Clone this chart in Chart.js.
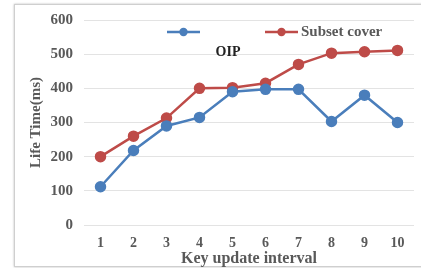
<!DOCTYPE html>
<html lang="en">
<head>
  <meta charset="UTF-8">
  <title>Life Time vs Key update interval</title>
  <script src="https://cdn.jsdelivr.net/npm/chart.js"></script>
</head>
<body style="margin:0; background:#fff; width:421px; height:268px; overflow:hidden; position:relative;">

  <!-- frame around the figure -->
  <div style="position:absolute; left:14px; top:4px; width:420px; height:261px; border:1px solid #cfcfcf; box-shadow:0 0 2px #bbb;"></div>

  <div style="position:absolute; left:0; top:0; width:421px; height:268px;">
    <canvas id="lifeChart" width="421" height="268"></canvas>
  </div>

  <script>
    // data
    const intervals = ['1', '2', '3', '4', '5', '6', '7', '8', '9', '10'];
    const oipValues = [112, 218, 290, 315, 390, 397, 397, 303, 380, 300];
    const subsetValues = [200, 260, 313, 400, 402, 415, 470, 503, 507, 511];
    const yTicks = [0, 100, 200, 300, 400, 500, 600];

    const BLUE = '#4a7ebb';
    const RED = '#be4b48';
    const GREY_TEXT = '#595959';
    const SERIF = "'Liberation Serif', 'DejaVu Serif', serif";

    // legend is drawn by hand: line+marker, with the OIP label sitting under its line
    const handLegend = {
      id: 'handLegend',
      afterDraw(chart) {
        const ctx = chart.ctx;
        const items = [
          { color: BLUE, x0: 167, x1: 200, y: 32 },
          { color: RED, x0: 265, x1: 298, y: 32 }
        ];
        ctx.save();
        items.forEach(it => {
          ctx.strokeStyle = it.color;
          ctx.lineWidth = 2.5;
          ctx.beginPath();
          ctx.moveTo(it.x0, it.y);
          ctx.lineTo(it.x1, it.y);
          ctx.stroke();
          ctx.fillStyle = it.color;
          ctx.beginPath();
          ctx.arc((it.x0 + it.x1) / 2, it.y, 4.2, 0, Math.PI * 2);
          ctx.fill();
        });
        ctx.textBaseline = 'middle';
        ctx.font = 'bold 15px ' + SERIF;
        ctx.fillStyle = GREY_TEXT;
        ctx.textAlign = 'left';
        ctx.fillText('Subset cover', 301, 32);
        ctx.fillStyle = '#222';
        ctx.font = 'bold 14px ' + SERIF;
        ctx.textAlign = 'center';
        ctx.fillText('OIP', 228, 52);
        ctx.restore();
      }
    };

    const ctx = document.getElementById('lifeChart').getContext('2d');
    new Chart(ctx, {
      type: 'line',
      data: {
        labels: intervals,
        datasets: [
          {
            label: 'OIP',
            data: oipValues,
            borderColor: BLUE,
            backgroundColor: BLUE,
            borderWidth: 2.5,
            pointRadius: 4.5,
            pointHoverRadius: 4.5,
            tension: 0
          },
          {
            label: 'Subset cover',
            data: subsetValues,
            borderColor: RED,
            backgroundColor: RED,
            borderWidth: 2.5,
            pointRadius: 4.5,
            pointHoverRadius: 4.5,
            tension: 0
          }
        ]
      },
      options: {
        responsive: false,
        animation: false,
        layout: { padding: { left: 0, right: 2, top: 19, bottom: 0 } },
        plugins: {
          legend: { display: false },
          tooltip: { enabled: false }
        },
        scales: {
          x: {
            offset: true,
            grid: { display: false, drawTicks: false },
            border: { display: false },
            ticks: {
              color: GREY_TEXT,
              padding: 10,
              font: { family: SERIF, size: 14, weight: 'bold' }
            },
            title: {
              display: true,
              text: 'Key update interval',
              color: GREY_TEXT,
              padding: { top: -3, bottom: 0 },
              font: { family: SERIF, size: 16, weight: 'bold' }
            },
            afterFit(scale) { scale.height = 268 - 225; }
          },
          y: {
            min: 0,
            max: 600,
            afterBuildTicks(scale) { scale.ticks = yTicks.map(v => ({ value: v })); },
            grid: { color: '#e3e3e3', lineWidth: 1, drawTicks: false },
            border: { display: false },
            ticks: {
              color: GREY_TEXT,
              padding: 11,
              font: { family: SERIF, size: 15, weight: 'bold' }
            },
            title: {
              display: true,
              text: 'Life Time(ms)',
              color: GREY_TEXT,
              padding: { top: 27, bottom: 0 },
              font: { family: SERIF, size: 15, weight: 'bold' }
            },
            afterFit(scale) { scale.width = 84; }
          }
        }
      },
      plugins: [handLegend]
    });
  </script>
</body>
</html>
